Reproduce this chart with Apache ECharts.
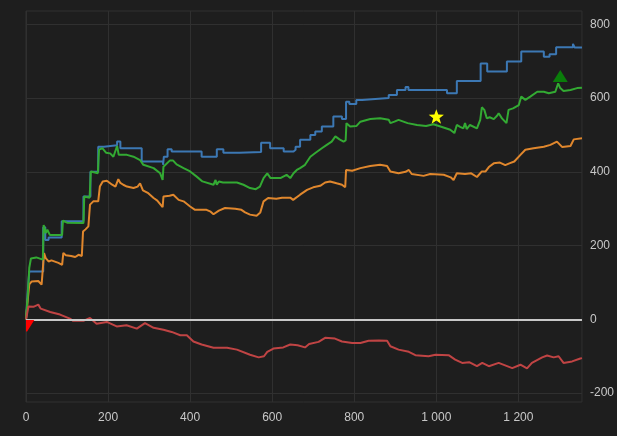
<!DOCTYPE html>
<html>
<head>
<meta charset="utf-8">
<script src="https://cdn.jsdelivr.net/npm/echarts@6/dist/echarts.min.js"></script>
<style>
html, body { margin: 0; padding: 0; background: #1e1e1e; }
#chart { width: 617px; height: 436px; }
</style>
</head>
<body>
<div id="chart"></div>
<script>
// tick labels
var xTicks = [0, 200, 400, 600, 800, 1000, 1200];
var yTicks = [-200, 0, 200, 400, 600, 800];

// series values, [x, value]
var blue = [[0, 0], [4, 70], [8, 130], [42, 250], [47, 215], [55, 222], [87, 266], [140, 333], [157, 400],
  [176, 468], [190, 472], [222, 482], [230, 464], [282, 428], [334, 419], [336, 441], [345, 461], [355, 455],
  [428, 441], [465, 461], [481, 452], [520, 454], [573, 479], [595, 464], [628, 455], [652, 460], [657, 468],
  [668, 487], [693, 500], [705, 509], [721, 523], [749, 550], [770, 543], [780, 590], [788, 584], [805, 595],
  [819, 600], [884, 608], [904, 622], [925, 630], [932, 622], [1026, 613], [1050, 646], [1108, 694],
  [1124, 672], [1172, 699], [1207, 726], [1262, 712], [1276, 719], [1292, 738], [1333, 747], [1337, 737],
  [1355, 737]];

var green = [[0, 0], [4, 60], [8, 140], [12, 165], [25, 168], [41, 162], [43, 256], [46, 245], [48, 234],
  [52, 243], [58, 229], [88, 229], [90, 268], [100, 262], [140, 261], [142, 333], [155, 330], [158, 401],
  [175, 396], [178, 460], [186, 464], [195, 452], [205, 450], [213, 441], [222, 470], [226, 446], [246, 446],
  [262, 441], [278, 432], [286, 419], [311, 410], [327, 396], [333, 378], [335, 414], [351, 431], [358, 431],
  [367, 420], [384, 410], [400, 401], [416, 387], [430, 374], [457, 365], [462, 378], [465, 365], [470, 374],
  [480, 371], [514, 371], [530, 365], [546, 356], [560, 353], [570, 360], [579, 383], [588, 396], [596, 383],
  [620, 383], [635, 392], [644, 383], [652, 396], [660, 405], [668, 410], [680, 419], [693, 441], [705, 451],
  [721, 464], [733, 473], [745, 482], [754, 496], [764, 488], [774, 482], [779, 485], [781, 532], [790, 523],
  [805, 524], [815, 536], [839, 543], [863, 545], [884, 541], [888, 532], [898, 536], [908, 541], [930, 532],
  [953, 527], [975, 524], [993, 529], [1010, 523], [1034, 514], [1044, 505], [1050, 527], [1058, 522],
  [1066, 518], [1070, 532], [1074, 516], [1082, 527], [1099, 518], [1107, 541], [1111, 575], [1117, 568],
  [1123, 545], [1130, 548], [1140, 543], [1148, 552], [1152, 559], [1160, 545], [1171, 532], [1176, 568],
  [1187, 572], [1201, 581], [1207, 604], [1217, 595], [1229, 604], [1246, 617], [1262, 617], [1274, 613],
  [1290, 617], [1297, 640], [1302, 627], [1310, 619], [1327, 622], [1343, 627], [1355, 628]];

var orange = [[0, 0], [4, 50], [8, 95], [14, 103], [30, 104], [34, 107], [38, 94], [42, 96], [44, 180],
  [48, 166], [55, 157], [62, 160], [79, 153], [88, 148], [91, 180], [97, 174], [110, 172], [120, 169],
  [128, 175], [136, 172], [139, 238], [145, 244], [152, 252], [156, 311], [164, 320], [176, 320], [180, 360],
  [187, 374], [197, 376], [210, 365], [218, 360], [225, 380], [230, 370], [237, 365], [246, 360], [262, 356],
  [272, 360], [278, 369], [285, 350], [298, 342], [311, 329], [320, 322], [333, 304], [335, 333], [350, 335],
  [359, 338], [372, 324], [384, 320], [400, 306], [412, 297], [440, 297], [450, 292], [457, 285], [470, 295],
  [485, 302], [510, 300], [525, 297], [534, 290], [546, 284], [562, 281], [571, 290], [579, 320], [590, 329],
  [610, 327], [624, 330], [644, 330], [651, 324], [668, 338], [685, 351], [700, 358], [717, 362], [729, 371],
  [741, 374], [757, 369], [770, 365], [778, 358], [780, 405], [795, 403], [815, 410], [839, 416], [863, 419],
  [880, 416], [888, 401], [908, 396], [925, 400], [933, 405], [940, 394], [969, 389], [985, 394], [1018, 392],
  [1035, 385], [1042, 378], [1050, 396], [1070, 394], [1085, 396], [1099, 386], [1111, 401], [1120, 401],
  [1128, 413], [1140, 423], [1155, 425], [1168, 418], [1178, 423], [1190, 428], [1205, 446], [1217, 460],
  [1237, 464], [1262, 468], [1278, 473], [1294, 482], [1307, 467], [1327, 470], [1335, 488], [1355, 491]];

var red = [[0, 0], [3, 5], [6, 35], [18, 34], [30, 40], [36, 29], [59, 20], [83, 13], [107, 2], [115, -4],
  [140, -4], [156, 4], [172, -12], [197, -7], [221, -19], [245, -16], [270, -25], [290, -10], [311, -23],
  [335, -28], [355, -34], [376, -43], [392, -43], [408, -60], [428, -68], [457, -77], [490, -77], [514, -82],
  [546, -96], [567, -103], [580, -100], [588, -88], [603, -79], [627, -76], [644, -68], [662, -70], [680, -76],
  [690, -67], [713, -61], [729, -50], [753, -52], [770, -60], [795, -64], [815, -64], [835, -58], [860, -57],
  [880, -58], [888, -73], [908, -82], [933, -88], [949, -97], [981, -100], [998, -96], [1030, -97],
  [1046, -109], [1063, -118], [1080, -116], [1099, -127], [1112, -118], [1128, -127], [1152, -118],
  [1185, -132], [1205, -123], [1221, -133], [1233, -118], [1258, -103], [1270, -98], [1286, -103],
  [1298, -100], [1310, -118], [1331, -114], [1351, -106], [1355, -105]];

// marker points
var downPoint = [2, -18];
var upPoint = [1302, 660];
var starPoint = [1000, 548];

var myChart = echarts.init(document.getElementById('chart'));

function thousands(v) {
    return String(v).replace(/\B(?=(\d{3})+(?!\d))/g, ' ');
}

function lineSeries(data, color, step) {
    return {
        type: 'line',
        data: data,
        step: step || false,
        symbol: 'none',
        lineStyle: { color: color, width: 2 },
        z: 2
    };
}

// triangle / star drawn round a data point
function markerSeries(point, color, kind) {
    return {
        type: 'custom',
        clip: true,
        z: 5,
        data: [point],
        encode: { x: 0, y: 1 },
        renderItem: function (params, api) {
            var p = api.coord([api.value(0), api.value(1)]);
            var pts;
            if (kind === 'down') {
                pts = [[p[0] - 7.5, p[1] - 6], [p[0] + 7.5, p[1] - 6], [p[0], p[1] + 6]];
            } else if (kind === 'up') {
                pts = [[p[0] - 7.5, p[1] + 6], [p[0] + 7.5, p[1] + 6], [p[0], p[1] - 6]];
            } else {
                pts = [];
                for (var i = 0; i < 10; i++) {
                    var r = i % 2 ? 3.3 : 8;
                    var a = -Math.PI / 2 + i * Math.PI / 5;
                    pts.push([p[0] + r * Math.cos(a), p[1] + r * Math.sin(a)]);
                }
            }
            return { type: 'polygon', shape: { points: pts }, style: { fill: color } };
        }
    };
}

myChart.setOption({
    animation: false,
    backgroundColor: '#1e1e1e',
    grid: {
        left: 26, right: 35, top: 11, bottom: 34,
        show: true, borderColor: '#303030', borderWidth: 1
    },
    xAxis: {
        type: 'value',
        min: 0,
        max: 1355,
        axisLine: { show: false },
        axisTick: { show: false, customValues: xTicks },
        axisLabel: {
            customValues: xTicks,
            color: '#c8c8c8', fontSize: 12, margin: 10,
            formatter: thousands
        },
        splitLine: { show: true, lineStyle: { color: '#303030' } }
    },
    yAxis: {
        type: 'value',
        position: 'right',
        min: -224,
        max: 836,
        axisLine: { show: false },
        axisTick: { show: false, customValues: yTicks },
        axisLabel: { customValues: yTicks, color: '#c8c8c8', fontSize: 12, margin: 8 },
        splitLine: { show: true, lineStyle: { color: '#303030' } }
    },
    series: [
        lineSeries(blue, '#3c78b4', 'end'),
        lineSeries(orange, '#e0872d'),
        lineSeries(green, '#33aa33'),
        lineSeries(red, '#c04444'),
        {
            type: 'line',
            data: [],
            z: 3,
            markLine: {
                silent: true,
                symbol: ['none', 'none'],
                label: { show: false },
                lineStyle: { color: '#c8c8c8', width: 2, type: 'solid' },
                data: [{ yAxis: 0 }]
            }
        },
        markerSeries(downPoint, '#ff0000', 'down'),
        markerSeries(upPoint, '#0a7d0a', 'up'),
        markerSeries(starPoint, '#ffff00', 'star')
    ]
});
</script>
</body>
</html>
